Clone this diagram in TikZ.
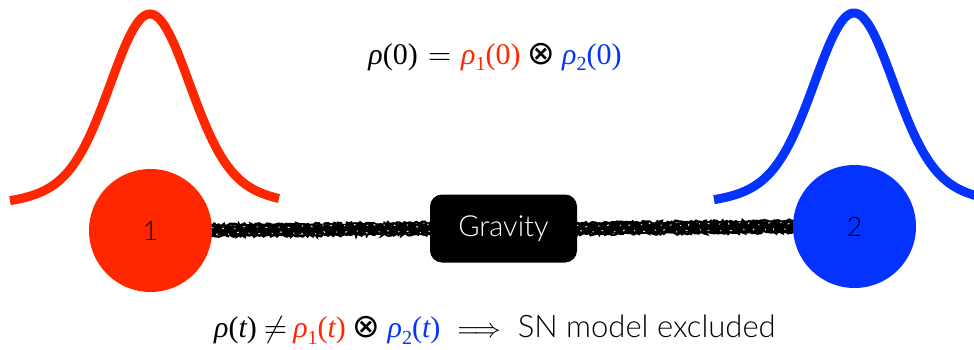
\documentclass[tikz,border=0pt]{standalone}
\usepackage{fontspec}
\newfontfamily\lightsans{Lato}[UprightFont=* Light]
\newfontfamily\tms{Liberation Serif}
\newfontfamily\djv{DejaVu Sans}
\usetikzlibrary{decorations.pathmorphing,backgrounds}
\definecolor{myred}{RGB}{255,38,0}
\definecolor{myblue}{RGB}{4,51,255}
\newcommand\rh{{\itshape ρ}}
\newcommand\sbs[1]{\raisebox{-0.22em}{\fontsize{20}{22}\selectfont #1}}
\newcommand\ivar[1]{{\itshape #1}}
\newcommand\otm{{\djv\fontsize{33}{38}\selectfont ⊗}}
\newcommand\mysym[2]{\scalebox{#1}{\fontsize{10}{12}\selectfont$#2$}}
\tikzset{
  ball/.style={circle, inner sep=0pt, minimum size=123pt, text=black,
    font=\lightsans\fontsize{27}{30}\selectfont},
  gauss/.style={line width=9pt},
  gravbox/.style={fill=black, rounded corners=12pt, minimum width=147pt,
    minimum height=68pt, inner sep=0pt, text=white,
    font=\lightsans\fontsize{29}{34}\selectfont},
  chalk/.style={line width=10pt, black, shorten <=-4pt, shorten >=-2pt},
  chalkedge/.style={line width=2.4pt, black, shorten <=-4pt, shorten >=-2pt,
    decorate, decoration={random steps, segment length=1.6pt, amplitude=1.3pt}},
  chalkspeck/.style={line width=1pt, white!75!gray, dash pattern=on 1.2pt off 9pt on 2pt off 13pt,
    decorate, decoration={random steps, segment length=2.5pt, amplitude=1.8pt}},
  eq/.style={font=\tms\fontsize{30}{34}\selectfont, inner sep=0pt},
}
\begin{document}
\begin{tikzpicture}[x=1pt, y=-1pt]
\useasboundingbox (0,0) rectangle (974,350);
\pgfmathsetseed{11}
% distributions
\draw[gauss, myred] plot[domain=10:279, samples=160, smooth]
  (\x, {206-192*(0.8*exp(-0.5*((\x-150)/38)*((\x-150)/38))+0.2*exp(-0.5*((\x-150)/70)*((\x-150)/70)))});
\draw[gauss, myblue] plot[domain=714:994, samples=160, smooth]
  (\x, {205-192*(0.8*exp(-0.5*((\x-854)/38)*((\x-854)/38))+0.2*exp(-0.5*((\x-854)/70)*((\x-854)/70)))});
% particles
\node[ball, fill=myred] (c1) at (150.5,230.5) {1};
\node[ball, fill=myblue] (c2) at (854.5,226.5) {2};
\node[gravbox] (grav) at (503.5,228.5) {Gravity};
% chalk connection
\begin{scope}[on background layer]
  \draw[chalk] (c1.east) -- (grav.west);
  \draw[chalk] (grav.east) -- (c2.west);
  \draw[chalkedge, transform canvas={yshift=-5.5pt}] (c1.east) -- (grav.west);
  \draw[chalkedge, transform canvas={yshift=5.5pt}] (c1.east) -- (grav.west);
  \draw[chalkedge, transform canvas={yshift=-5.5pt}] (grav.east) -- (c2.west);
  \draw[chalkedge, transform canvas={yshift=5.5pt}] (grav.east) -- (c2.west);
\end{scope}
\draw[chalkspeck, transform canvas={yshift=3pt}] (c1.east) -- (grav.west);
\draw[chalkspeck, transform canvas={yshift=3pt}] (grav.east) -- (c2.west);
\draw[chalkspeck, dash phase=6pt, transform canvas={yshift=-3pt}] (c1.east) -- (grav.west);
\draw[chalkspeck, dash phase=6pt, transform canvas={yshift=-3pt}] (grav.east) -- (c2.west);
% equations
\node[eq] (top) at (495,57) {\rh(0)\hspace{10pt}\mysym{3}{=}\hspace{10pt}{\color{myred}\rh\sbs{1}(0)}\hspace{7pt}\otm\hspace{7pt}{\color{myblue}\rh\sbs{2}(0)}};
\node[eq, anchor=west] (bot) at (214,330) {\rh(\ivar{t})\hspace{7pt}\mysym{3}{\neq}\hspace{6pt}{\color{myred}\rh\sbs{1}(\ivar{t})}\hspace{7pt}\otm\hspace{7pt}{\color{myblue}\rh\sbs{2}(\ivar{t})}\hspace{17pt}\mysym{2.7}{\Longrightarrow}\hspace{17pt}{\lightsans\fontsize{31}{34}\selectfont SN model excluded}};
\end{tikzpicture}
\end{document}
